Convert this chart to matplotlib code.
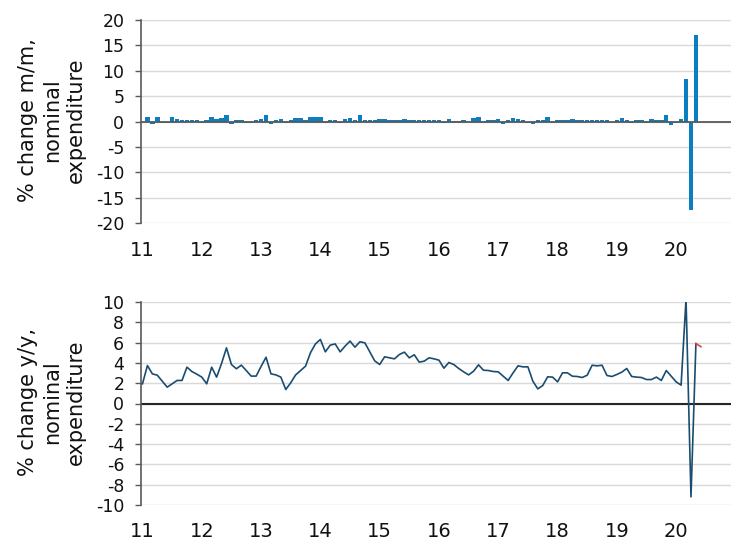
import matplotlib
matplotlib.use('Agg')
import matplotlib.pyplot as plt
import numpy as np

plt.rcParams['font.family'] = ['DejaVu Sans']
plt.rcParams['axes.unicode_minus'] = False

# ---- data ----
year_labels = ['11', '12', '13', '14', '15', '16', '17', '18', '19', '20']

# % change m/m, nominal expenditure (Feb 2011 .. May 2020)
mm_change = [
    1.0, -0.45, 1.0, -0.2, -0.2, 0.9, 0.5, 0.3, 0.3, 0.3, 0.3,          # 2011 Feb-Dec
    -0.25, 0.4, 0.9, 0.5, 0.8, 1.25, -0.45, 0.3, 0.25, -0.2, -0.2, 0.3,  # 2012
    0.5, 1.25, -0.45, 0.3, 0.5, -0.2, 0.3, 0.7, 0.7, 0.3, 1.0, 1.0,      # 2013
    1.0, -0.2, 0.3, 0.3, -0.2, 0.45, 0.7, 0.3, 1.3, 0.3, 0.3, 0.3,       # 2014
    0.5, 0.5, 0.3, 0.3, 0.3, 0.5, 0.3, 0.3, 0.3, 0.3, 0.3, 0.3,          # 2015
    0.3, -0.2, 0.5, 0.1, 0.1, 0.3, -0.15, 0.7, 1.0, -0.2, 0.3, 0.3,      # 2016
    0.45, -0.4, 0.3, 0.7, 0.5, 0.3, -0.2, -0.55, 0.3, 0.3, 1.0, -0.2,    # 2017
    0.3, 0.3, 0.3, 0.5, 0.3, 0.3, 0.3, 0.3, 0.3, 0.3, 0.3, -0.15,        # 2018
    0.3, 0.7, 0.3, -0.2, 0.3, 0.3, -0.2, 0.5, 0.3, 0.3, 1.3, -0.7,       # 2019
    -0.25, 0.5, 8.3, -17.4, 17.0,                                        # 2020 Jan-May
]

# % change y/y, nominal expenditure (Jan 2011 .. Jun 2020)
yy_change = [
    1.94, 3.74, 2.92, 2.79, 2.2, 1.61, 1.94, 2.27, 2.27, 3.58, 3.15, 2.89,   # 2011
    2.6, 1.94, 3.58, 2.6, 3.94, 5.48, 3.84, 3.42, 3.78, 3.25, 2.7, 2.7,      # 2012
    3.65, 4.56, 2.92, 2.82, 2.6, 1.38, 2.04, 2.82, 3.25, 3.68, 5.0, 5.87,    # 2013
    6.31, 5.09, 5.75, 5.87, 5.09, 5.65, 6.15, 5.55, 6.08, 5.98, 5.09, 4.2,   # 2014
    3.84, 4.6, 4.5, 4.4, 4.83, 5.06, 4.5, 4.8, 4.08, 4.17, 4.5, 4.4,         # 2015
    4.27, 3.48, 4.04, 3.84, 3.45, 3.12, 2.82, 3.18, 3.81, 3.28, 3.25, 3.15,  # 2016
    3.12, 2.69, 2.27, 3.02, 3.71, 3.61, 3.61, 2.2, 1.44, 1.77, 2.63, 2.6,    # 2017
    2.13, 3.02, 3.02, 2.69, 2.66, 2.56, 2.79, 3.77, 3.71, 3.77, 2.76, 2.66,  # 2018
    2.86, 3.09, 3.45, 2.66, 2.6, 2.56, 2.36, 2.36, 2.6, 2.27, 3.25, 2.69,    # 2019
    2.13, 1.81, 10.3, -9.2, 5.9, 5.6,                                        # 2020 Jan-Jun
]

mm_months = np.arange(1, 1 + len(mm_change))
yy_months = np.arange(len(yy_change))
year_ticks = np.arange(len(year_labels)) * 12

BAR_COLOR = '#0b7dc1'
LINE_COLOR = '#1a4d70'
RED_COLOR = '#e5432e'
GRID_COLOR = '#d9d9d9'
AXIS_COLOR = '#595959'

fig = plt.figure(figsize=(7.31, 5.43), dpi=100)
ax1 = fig.add_axes([141 / 731, 1 - 223.3 / 543, 590 / 731, 203.3 / 543])
ax2 = fig.add_axes([141 / 731, 1 - 505 / 543, 590 / 731, 203 / 543])


def style(ax, ylim, yticks):
    ax.set_xlim(-0.3, 119.1)
    ax.set_ylim(*ylim)
    ax.set_yticks(yticks)
    ax.set_xticks(year_ticks)
    ax.set_xticklabels(year_labels)
    for s in ['top', 'right', 'bottom']:
        ax.spines[s].set_visible(False)
    ax.spines['left'].set_color(AXIS_COLOR)
    ax.spines['left'].set_linewidth(1.2)
    ax.grid(axis='y', color=GRID_COLOR, linewidth=1.0, zorder=0)
    ax.set_axisbelow(True)
    ax.tick_params(axis='y', direction='out', length=4.5, width=1.0,
                   color=AXIS_COLOR, labelsize=12.5, pad=7.5, labelcolor='#111111')
    ax.tick_params(axis='x', length=0, labelsize=14, pad=12.5, labelcolor='#111111')


style(ax1, (-20, 20), np.arange(-20, 21, 5))
ax1.bar(mm_months, mm_change, width=0.9, color=BAR_COLOR, zorder=2)
ax1.axhline(0, color=AXIS_COLOR, linewidth=1.3, zorder=3)

style(ax2, (-10, 10), np.arange(-10, 11, 2))
ax2.axhline(0, color='#262626', linewidth=1.5, zorder=2)
ax2.plot(yy_months[:-1], yy_change[:-1], color=LINE_COLOR, linewidth=1.2, zorder=3)
ax2.plot(yy_months[-2:], yy_change[-2:], color=RED_COLOR, linewidth=1.2, zorder=3)

fig.text(52 / 731, 1 - 120 / 543, '% change m/m,\nnominal\nexpenditure',
         rotation=90, ha='center', va='center', multialignment='center',
         fontsize=15, linespacing=1.25, color='#111111')
fig.text(52 / 731, 1 - 402 / 543, '% change y/y,\nnominal\nexpenditure',
         rotation=90, ha='center', va='center', multialignment='center',
         fontsize=15, linespacing=1.25, color='#111111')

fig.savefig('out.png', dpi=100)
